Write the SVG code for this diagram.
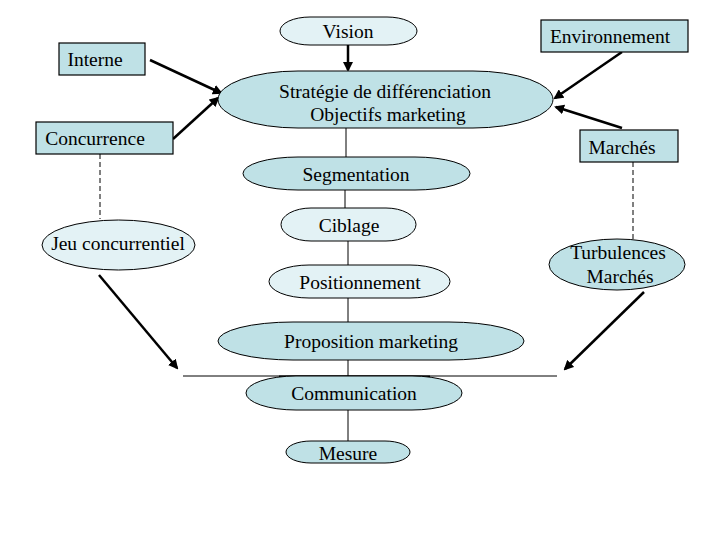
<svg xmlns="http://www.w3.org/2000/svg" width="720" height="540" viewBox="0 0 720 540">
<defs>
<style>
.t{font-family:"Liberation Serif","Times New Roman",serif;font-size:19.5px;fill:#000;text-anchor:middle}
.box{fill:#bfe1e6;stroke:#000;stroke-width:1.2}
.dk{fill:#bfe1e6;stroke:#000;stroke-width:1}
.lt{fill:#e3f2f5;stroke:#000;stroke-width:1}
.ln{stroke:#000;stroke-width:1;fill:none}
.ar{stroke:#000;stroke-width:2.5;fill:none;marker-end:url(#ah)}
.da{stroke:#000;stroke-width:1;stroke-dasharray:5,3;fill:none}
</style>
<marker id="ah" viewBox="0 0 10 10" refX="8" refY="5" markerWidth="4" markerHeight="4" orient="auto" markerUnits="strokeWidth">
<path d="M0,0 L10,5 L0,10 z" fill="#000"/>
</marker>
</defs>
<rect width="720" height="540" fill="#fff"/>
<g id="connectors">
<line class="ar" x1="348" y1="45" x2="348" y2="70"/>
<line class="ar" x1="150" y1="60" x2="221" y2="93"/>
<line class="ar" x1="173" y1="139" x2="218" y2="98"/>
<line class="ar" x1="622" y1="52" x2="555" y2="98"/>
<line class="ar" x1="622" y1="128" x2="556" y2="107"/>
<line class="ln" x1="346" y1="128" x2="346" y2="157"/>
<line class="ln" x1="345" y1="190" x2="345" y2="208"/>
<line class="ln" x1="348" y1="241" x2="348" y2="265"/>
<line class="ln" x1="348" y1="298" x2="348" y2="322"/>
<line class="ln" x1="348" y1="360" x2="348" y2="376"/>
<line class="ln" x1="183" y1="376" x2="557" y2="376"/>
<line class="ln" x1="348" y1="410" x2="348" y2="441"/>
<line class="da" x1="100" y1="154" x2="100" y2="219"/>
<line class="da" x1="633" y1="162" x2="633" y2="240"/>
<line class="ar" x1="99" y1="275" x2="177" y2="368"/>
<line class="ar" x1="644" y1="292" x2="565" y2="369"/>
</g>
<g id="vision"><rect class="lt" x="280" y="17" width="137" height="28" rx="30" ry="14"/><text class="t" x="348" y="38">Vision</text></g>
<g id="interne"><rect class="box" x="59" y="43" width="86" height="32"/><text class="t" x="95" y="66">Interne</text></g>
<g id="environnement"><rect class="box" x="541" y="20" width="147" height="32"/><text class="t" x="610" y="43">Environnement</text></g>
<g id="strategie"><rect class="dk" x="218" y="71" width="335" height="57" rx="80" ry="28.5"/><text class="t" x="385" y="98">Stratégie de différenciation</text><text class="t" x="388" y="121">Objectifs marketing</text></g>
<g id="concurrence"><rect class="box" x="36" y="122" width="137" height="32"/><text class="t" x="95" y="145">Concurrence</text></g>
<g id="marches"><rect class="box" x="580" y="130" width="98" height="32"/><text class="t" x="622" y="154">Marchés</text></g>
<g id="segmentation"><rect class="dk" x="243" y="157" width="227" height="33" rx="55" ry="16.5"/><text class="t" x="356" y="181">Segmentation</text></g>
<g id="ciblage"><rect class="lt" x="281" y="208" width="135" height="33" rx="30" ry="16.5"/><text class="t" x="349" y="232">Ciblage</text></g>
<g id="jeu"><ellipse class="lt" cx="118.5" cy="245" rx="76.5" ry="25"/><text class="t" x="118" y="250">Jeu concurrentiel</text></g>
<g id="turbulences"><ellipse class="dk" cx="617" cy="264.5" rx="68" ry="25.5"/><text class="t" x="618" y="259">Turbulences</text><text class="t" x="620" y="283">Marchés</text></g>
<g id="positionnement"><rect class="lt" x="269" y="265" width="181" height="33" rx="40" ry="16.5"/><text class="t" x="360" y="289">Positionnement</text></g>
<g id="proposition"><rect class="dk" x="218" y="322" width="306" height="38" rx="75" ry="19"/><text class="t" x="371" y="348">Proposition marketing</text></g>
<line x1="279" y1="376.5" x2="430" y2="376.5" stroke="#000" stroke-width="2"/>
<g id="communication"><rect class="dk" x="246" y="376" width="216" height="34" rx="50" ry="17"/><text class="t" x="354" y="400">Communication</text></g>
<g id="mesure"><rect class="dk" x="286" y="441" width="124" height="22" rx="25" ry="11"/><text class="t" x="348" y="460">Mesure</text></g>
</svg>
